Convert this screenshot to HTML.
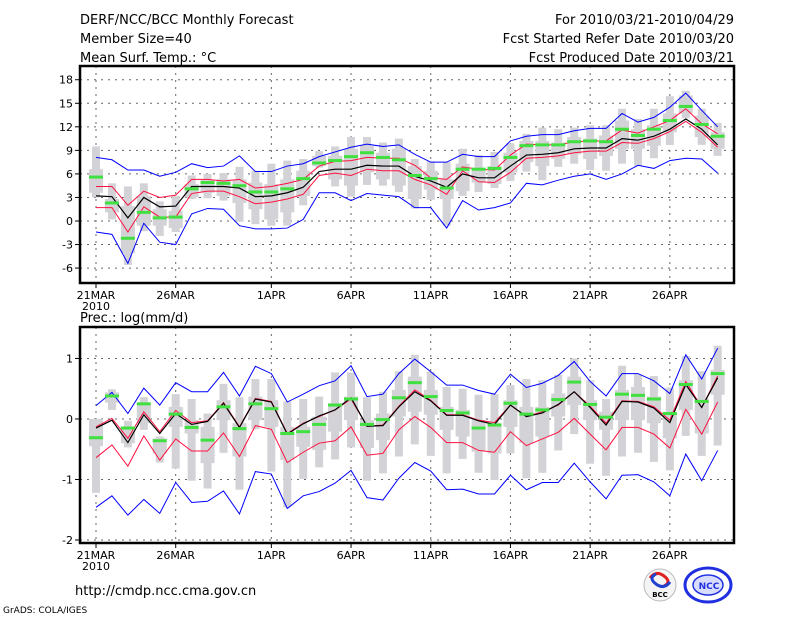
<!DOCTYPE html>
<html><head><meta charset="utf-8"><style>
body{margin:0;background:#fff;width:800px;height:618px;overflow:hidden}
svg text{font-family:"DejaVu Sans","Liberation Sans",sans-serif;fill:#000}
</style></head><body>
<svg id="c" width="800" height="618" viewBox="0 0 800 618" xmlns="http://www.w3.org/2000/svg">
<text x="80" y="24" font-size="13">DERF/NCC/BCC Monthly Forecast</text>
<text x="80" y="43" font-size="13">Member Size=40</text>
<text x="80" y="62" font-size="13">Mean Surf. Temp.: °C</text>
<text x="734" y="24" font-size="13" text-anchor="end">For 2010/03/21-2010/04/29</text>
<text x="734" y="43" font-size="13" text-anchor="end">Fcst Started Refer Date 2010/03/20</text>
<text x="734" y="62" font-size="13" text-anchor="end">Fcst Produced Date 2010/03/21</text>
<text x="80" y="322" font-size="13">Prec.: log(mm/d)</text>
<text x="75" y="595" font-size="13">http://cmdp.ncc.cma.gov.cn</text>
<text x="3" y="613" font-size="9">GrADS: COLA/IGES</text>
<g>
<circle cx="660" cy="585" r="16" fill="#f4f4f4" stroke="#bbb"/>
<path d="M650 578 q6 -8 14 -2 q8 6 0 10" stroke="#e02020" stroke-width="3" fill="none"/>
<path d="M670 582 q-6 8 -14 2 q-8 -6 0 -10" stroke="#2040d0" stroke-width="3" fill="none"/>
<text x="660" y="597" font-size="7" text-anchor="middle" font-weight="bold">BCC</text>
</g>
<g>
<ellipse cx="708" cy="585" rx="23" ry="17" fill="none" stroke="#2030e0" stroke-width="3"/>
<ellipse cx="708" cy="585" rx="15" ry="10" fill="#d8dcff" stroke="#2030e0" stroke-width="1.5"/>
<text x="709" y="589" font-size="9" text-anchor="middle" font-weight="bold" style="fill:#2030e0">NCC</text>
</g>
</svg>
<script>
// ---- data: temperature (°C) ----
const days = 40;
const xTickLabels = ['21MAR','26MAR','1APR','6APR','11APR','16APR','21APR','26APR'];
const xTickDays = [0,5,11,16,21,26,31,36];
const tTicks = [18,15,12,9,6,3,0,-3,-6];
const pTicks = [1,0,-1,-2];
const tBlueHi = [8.1,7.8,6.5,6.5,5.7,6.2,7.3,6.8,7.0,8.3,6.3,6.3,7.0,7.3,8.2,8.8,9.4,9.8,9.5,9.7,8.5,7.5,7.5,8.5,8.2,8.2,10.2,10.8,11.0,11.0,11.5,11.8,11.8,13.7,12.6,13.2,14.5,16.3,14.1,12.0];
const tBlueLo = [-1.4,-1.7,-5.4,-0.3,-2.7,-3.0,0.9,1.6,1.5,-0.6,-1.0,-1.0,-0.9,0.2,3.6,3.6,2.6,3.5,3.3,3.1,1.7,1.7,-0.9,2.6,1.4,1.7,2.3,4.8,4.6,5.2,5.7,6.0,5.3,6.0,7.1,6.7,7.7,8.0,7.9,6.1];
const tRedHi = [4.4,4.4,2.0,3.8,3.0,3.3,5.3,5.3,5.1,5.3,4.2,4.4,4.8,5.3,7.0,7.6,7.7,8.1,8.0,8.0,7.1,5.5,5.3,6.9,6.6,6.5,8.4,9.8,9.7,9.7,10.1,10.2,10.2,11.6,11.2,12.0,12.8,14.3,12.4,11.1];
const tRedLo = [1.7,1.7,-1.4,1.8,0.5,0.5,3.5,3.8,3.8,3.1,2.2,2.4,2.8,3.4,5.8,6.1,5.8,6.6,6.4,6.4,5.3,4.6,3.4,6.4,5.0,4.9,6.2,8.0,8.1,8.3,8.7,8.9,8.9,10.0,9.9,10.5,11.4,12.7,11.3,9.4];
const tMean = [3.2,3.1,0.4,3.0,1.8,1.9,4.4,4.4,4.4,4.2,3.1,3.2,3.6,4.3,6.3,6.6,6.6,7.1,7.0,7.0,5.7,5.1,4.3,6.0,5.5,5.5,7.0,8.4,8.5,8.7,9.2,9.3,9.3,10.5,10.3,10.8,11.7,13.0,11.7,9.7];
const tGreen = [5.6,2.3,-2.2,1.1,0.4,0.5,4.1,4.9,4.8,4.5,3.7,3.7,4.1,5.4,7.4,7.7,8.2,8.7,8.1,7.8,5.8,5.4,4.2,6.6,6.6,6.7,8.1,9.6,9.7,9.7,10.1,10.2,10.1,11.7,10.9,11.7,12.8,14.6,12.3,10.8];
const tMax = [9.5,4.8,4.4,4.8,2.5,3.2,5.8,6.0,6.1,6.9,6.4,7.3,7.7,7.9,8.9,9.5,10.7,10.7,10.0,10.5,7.9,7.6,7.5,9.2,8.4,8.8,9.9,11.1,11.9,11.7,11.9,12.2,12.2,14.3,13.0,14.3,15.9,16.6,14.3,12.5];
const tMin = [3.0,0.2,-5.6,-1.3,-1.9,-1.4,2.8,2.9,2.6,-0.1,-0.4,-0.6,-0.6,2.0,6.8,4.4,3.1,4.6,4.5,3.7,1.6,2.7,-0.6,3.2,3.7,4.2,5.1,6.3,5.2,6.9,7.3,6.5,6.4,7.3,7.0,8.0,9.7,13.1,9.7,8.3];
const tQ3 = [6.6,2.8,1.9,3.2,1.5,1.3,4.7,5.3,5.3,5.3,4.9,4.7,5.3,6.4,8.3,8.3,9.2,9.6,8.7,9.2,7.0,6.4,5.3,7.3,6.8,7.0,8.7,10.2,10.2,10.0,10.7,10.5,10.9,12.8,11.7,12.2,13.7,16.0,13.4,11.3];
const tQ1 = [3.6,1.1,-4.1,-0.6,-0.6,-0.9,3.0,3.6,3.2,2.3,1.5,0.2,1.1,3.2,7.0,5.3,4.5,6.2,5.3,4.5,2.8,4.0,2.8,3.8,4.9,4.7,6.2,7.5,7.0,7.9,8.5,7.9,8.3,9.2,9.2,9.6,11.3,13.7,10.7,9.2];
// ---- data: precipitation log(mm/d) ----
const pBlueHi = [0.22,0.44,0.09,0.51,0.23,0.60,0.45,0.45,0.77,0.38,0.87,0.75,0.28,0.41,0.55,0.63,0.88,0.37,0.41,0.75,0.99,0.78,0.56,0.56,0.47,0.41,0.74,0.52,0.59,0.72,0.95,0.62,0.38,0.75,0.75,0.63,0.42,1.06,0.66,1.17];
const pBlueLo = [-1.46,-1.27,-1.59,-1.33,-1.56,-1.05,-1.38,-1.36,-1.19,-1.57,-0.87,-0.91,-1.48,-1.27,-1.20,-1.06,-0.85,-1.30,-1.34,-0.98,-0.72,-0.86,-1.17,-1.16,-1.24,-1.24,-0.93,-1.17,-1.05,-1.05,-0.73,-1.04,-1.32,-0.93,-0.92,-1.04,-1.27,-0.58,-1.02,-0.52];
const pRedHi = [-0.13,0.01,-0.32,0.12,-0.21,0.14,-0.06,-0.03,0.27,-0.13,0.34,0.29,-0.24,-0.07,0.04,0.15,0.33,-0.12,-0.10,0.21,0.48,0.31,0.07,0.07,-0.02,-0.06,0.23,0.04,0.12,0.23,0.45,0.21,-0.07,0.30,0.29,0.20,-0.02,0.62,0.19,0.71];
const pRedLo = [-0.64,-0.43,-0.78,-0.28,-0.68,-0.33,-0.53,-0.53,-0.23,-0.62,-0.11,-0.17,-0.72,-0.55,-0.40,-0.36,-0.13,-0.60,-0.57,-0.18,0.04,-0.14,-0.39,-0.39,-0.52,-0.55,-0.21,-0.44,-0.33,-0.22,0.01,-0.25,-0.51,-0.14,-0.14,-0.25,-0.48,0.16,-0.25,0.28];
const pMean = [-0.15,-0.02,-0.39,0.07,-0.24,0.09,-0.09,-0.04,0.26,-0.14,0.33,0.28,-0.25,-0.08,0.05,0.15,0.35,-0.12,-0.11,0.20,0.45,0.30,0.06,0.06,-0.03,-0.09,0.23,0.04,0.10,0.24,0.45,0.19,-0.10,0.29,0.28,0.18,-0.06,0.57,0.19,0.68];
const pGreen = [-0.31,0.38,-0.15,0.25,-0.36,0.08,-0.14,-0.35,0.20,-0.16,0.25,0.17,-0.24,-0.21,-0.09,0.23,0.33,-0.09,-0.01,0.35,0.60,0.37,0.14,0.10,-0.15,-0.10,0.26,0.08,0.15,0.32,0.61,0.24,0.03,0.41,0.39,0.33,0.09,0.57,0.29,0.75];
const pMax = [0.00,0.49,-0.03,0.36,-0.29,0.41,0.33,0.09,0.58,0.36,0.66,0.66,0.29,0.33,0.37,0.77,0.77,0.36,0.45,0.79,1.06,0.78,0.53,0.50,0.40,0.41,0.56,0.66,0.64,0.73,1.00,0.64,0.33,0.88,0.74,0.71,0.52,1.04,0.79,1.21];
const pMin = [-1.22,0.15,-0.47,-0.18,-0.72,-0.82,-1.02,-1.15,-0.56,-1.17,-0.17,-0.87,-1.46,-0.99,-0.80,-0.67,-0.47,-1.02,-0.90,-0.62,-0.42,-0.61,-0.90,-0.66,-0.89,-1.01,-0.57,-0.98,-0.89,-0.52,-0.25,-0.74,-0.94,-0.62,-0.56,-0.71,-0.85,-0.28,-0.61,-0.44];
const pQ3 = [0.00,0.44,-0.13,0.23,-0.32,0.20,-0.02,-0.13,0.31,-0.07,0.37,0.31,-0.13,-0.13,0.04,0.26,0.37,-0.02,0.09,0.48,0.70,0.48,0.20,0.15,-0.02,-0.07,0.31,0.20,0.20,0.42,0.70,0.31,0.12,0.48,0.53,0.37,0.09,0.64,0.34,0.81];
const pQ1 = [-0.45,0.27,-0.40,-0.07,-0.57,-0.13,-0.24,-0.73,-0.02,-0.62,-0.02,-0.13,-0.68,-0.46,-0.51,-0.21,-0.02,-0.48,-0.35,0.04,0.12,0.07,-0.18,-0.29,-0.54,-0.57,-0.13,-0.40,-0.29,0.04,0.23,-0.02,-0.18,-0.02,-0.02,-0.07,-0.32,0.15,-0.24,0.40];

const svg = document.getElementById('c');
const NS = 'http://www.w3.org/2000/svg';
function mk(tag, attrs){const e=document.createElementNS(NS,tag);for(const k in attrs)e.setAttribute(k,attrs[k]);svg.appendChild(e);return e;}
const X0=80, X1=734;
const xScale = d => 96 + d*15.94;

function panel(name, top, bot, vTop, vBot, ticks, series){
  const y = v => top + (vTop - v)/(vTop - vBot)*(bot - top);
  // grid
  ticks.forEach(t=>{
    const g=mk('line',{x1:X0,x2:X1,y1:y(t),y2:y(t),stroke:'#666','stroke-dasharray':'2,5','stroke-width':1});
    
    
    const tk=mk('line',{x1:X0-5,x2:X0,y1:y(t),y2:y(t),stroke:'#000'});
    
    
    const lb=mk('text',{x:X0-7,y:y(t)+4,'font-size':11,'text-anchor':'end'});
    lb.textContent=t;
    
    
  });
  xTickDays.forEach((d,i)=>{
    const g=mk('line',{x1:xScale(d),x2:xScale(d),y1:top,y2:bot,stroke:'#666','stroke-dasharray':'2,5'});
    
    
    const tk=mk('line',{x1:xScale(d),x2:xScale(d),y1:bot,y2:bot+5,stroke:'#000'});
    
    
    const lb=mk('text',{x:xScale(d),y:bot+16,'font-size':11,'text-anchor':'middle'});
    lb.textContent=xTickLabels[i];
    
    
  });
  const yr=mk('text',{x:xScale(0),y:bot+27,'font-size':11,'text-anchor':'middle'});
  yr.textContent='2010';
  
  
  // boxes
  for(let d=0; d<days; d++){
    const cx=xScale(d);
    const w=mk('rect',{x:cx-4,y:y(series.max[d]),width:8,height:y(series.min[d])-y(series.max[d]),fill:'#d3d3d7'});
    
    
    const b=mk('rect',{x:cx-7,y:y(series.q3[d]),width:14,height:y(series.q1[d])-y(series.q3[d]),fill:'#d3d3d7'});
    
    
  }
  const line=(arr,col,nm,wd)=>{
    const p=mk('polyline',{points:arr.map((v,d)=>xScale(d)+','+y(v)).join(' '),fill:'none',stroke:col,'stroke-width':wd});
    
    
  };
  line(series.bHi,'#0000ff',name+'-upper-bound-line',1);
  line(series.bLo,'#0000ff',name+'-lower-bound-line',1);
  line(series.rHi,'#ff1040',name+'-upper-spread-line',1);
  line(series.rLo,'#ff1040',name+'-lower-spread-line',1);
  line(series.mean,'#000',name+'-ensemble-mean-line',1.2);
  for(let d=0; d<days; d++){
    const g=mk('rect',{x:xScale(d)-7,y:y(series.green[d])-1.5,width:14,height:3,fill:'#40e040'});
    
    
  }
  const f=mk('rect',{x:X0,y:top,width:X1-X0,height:bot-top,fill:'none',stroke:'#000','stroke-width':2.5});
  
  
}
panel('temperature-panel',66,283,19.75,-7.9,tTicks,{max:tMax,min:tMin,q3:tQ3,q1:tQ1,bHi:tBlueHi,bLo:tBlueLo,rHi:tRedHi,rLo:tRedLo,mean:tMean,green:tGreen});
panel('precip-panel',327,543,1.52,-2.05,pTicks,{max:pMax,min:pMin,q3:pQ3,q1:pQ1,bHi:pBlueHi,bLo:pBlueLo,rHi:pRedHi,rLo:pRedLo,mean:pMean,green:pGreen});
</script>
</body></html>
